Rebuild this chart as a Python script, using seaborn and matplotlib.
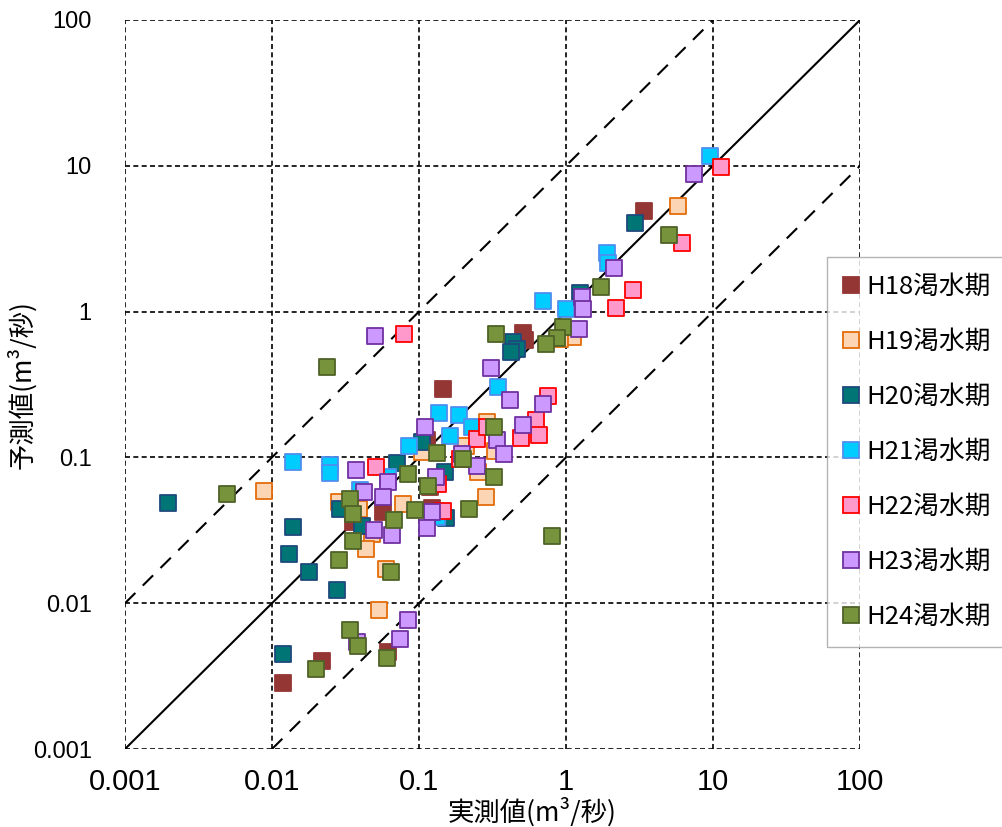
import matplotlib
matplotlib.use("Agg")
import matplotlib.pyplot as plt
import seaborn as sns
import pandas as pd
from matplotlib.lines import Line2D

# ---------------- data (実測値, 予測値) ----------------
h18_x = [3.40, 0.51, 0.53, 0.146, 0.113, 0.119, 0.122, 0.057, 0.0356, 0.0219, 0.0119, 0.0615]
h18_y = [4.9, 0.71, 0.64, 0.294, 0.131, 0.0627, 0.045, 0.0422, 0.0361, 0.00402, 0.00284, 0.00463]

h19_x = [5.78, 1.12, 0.91, 0.00883, 0.0286, 0.0391, 0.0479, 0.0436, 0.0597, 0.290, 0.209,
         0.105, 0.329, 0.252, 0.286, 0.0778, 0.0535]
h19_y = [5.30, 0.67, 0.65, 0.0588, 0.0494, 0.0443, 0.0298, 0.0235, 0.0172, 0.175, 0.120,
         0.109, 0.111, 0.0794, 0.0535, 0.0479, 0.00898]

h20_x = [2.95, 1.24, 0.436, 0.464, 0.422, 0.00196, 0.0139, 0.0130, 0.0179, 0.0277, 0.0290,
         0.0410, 0.0708, 0.105, 0.150, 0.153, 0.0119]
h20_y = [4.05, 1.34, 0.619, 0.554, 0.528, 0.0487, 0.0333, 0.0217, 0.0164, 0.0123, 0.0443,
         0.0338, 0.0916, 0.1276, 0.0794, 0.0384, 0.00449]

h21_x = [9.55, 1.90, 1.93, 0.698, 1.0, 0.345, 0.137, 0.187, 0.229, 0.163, 0.0855, 0.0139,
         0.0248, 0.0248, 0.0397, 0.0615, 0.133]
h21_y = [11.7, 2.52, 2.15, 1.18, 1.04, 0.304, 0.202, 0.195, 0.162, 0.140, 0.120, 0.0929,
         0.0887, 0.0782, 0.0598, 0.0734, 0.039]

h22_x = [11.3, 6.15, 2.86, 2.19, 0.079, 0.754, 0.625, 0.655, 0.494, 0.248, 0.290, 0.190,
         0.135, 0.146, 0.051]
h22_y = [9.8, 2.95, 1.41, 1.06, 0.70, 0.264, 0.181, 0.142, 0.136, 0.134, 0.162, 0.0975,
         0.0657, 0.0429, 0.0859]

h23_x = [7.43, 2.12, 1.28, 1.31, 1.23, 0.309, 0.416, 0.698, 0.51, 0.340, 0.379, 0.110, 0.248,
         0.196, 0.131, 0.0502, 0.0373, 0.0615, 0.0423, 0.0569, 0.122, 0.113, 0.0494, 0.0655,
         0.0842, 0.0743, 0.0379]
h23_y = [8.79, 1.99, 1.26, 1.04, 0.76, 0.41, 0.248, 0.232, 0.167, 0.131, 0.105, 0.162, 0.0873,
         0.105, 0.0734, 0.68, 0.082, 0.0678, 0.0579, 0.0535, 0.0422, 0.0328, 0.0318, 0.0294,
         0.00767, 0.00568, 0.00542]

h24_x = [5.02, 1.73, 0.955, 0.869, 0.731, 0.334, 0.324, 0.133, 0.199, 0.0842, 0.115, 0.324,
         0.094, 0.0676, 0.219, 0.803, 0.0237, 0.00494, 0.034, 0.0356, 0.0356, 0.0286, 0.0645,
         0.034, 0.0385, 0.0606, 0.0199]
h24_y = [3.35, 1.47, 0.784, 0.659, 0.60, 0.70, 0.162, 0.107, 0.0975, 0.077, 0.0637, 0.0734,
         0.0436, 0.0372, 0.0443, 0.0289, 0.417, 0.0561, 0.0519, 0.0409, 0.0267, 0.0198, 0.0164,
         0.00655, 0.00509, 0.00421, 0.00354]

series_names = ["H18渇水期", "H19渇水期", "H20渇水期", "H21渇水期", "H22渇水期", "H23渇水期", "H24渇水期"]
series_x = [h18_x, h19_x, h20_x, h21_x, h22_x, h23_x, h24_x]
series_y = [h18_y, h19_y, h20_y, h21_y, h22_y, h23_y, h24_y]

tick_vals = [0.001, 0.01, 0.1, 1, 10, 100]
tick_labels = ["0.001", "0.01", "0.1", "1", "10", "100"]

# ---------------- style ----------------
face_colors = ["#943634", "#FCD5B5", "#007575", "#00CCFF", "#FF99CC", "#CC99FF", "#77933C"]
edge_colors = ["#943634", "#E46C0A", "#1F497D", "#4F8FEF", "#FF0000", "#7030A0", "#4F6228"]

sns.set_theme(style="white")
plt.rcParams["font.family"] = ["Noto Sans CJK JP", "DejaVu Sans"]
plt.rcParams["text.color"] = "black"
plt.rcParams["axes.labelcolor"] = "black"
plt.rcParams["xtick.color"] = "black"
plt.rcParams["ytick.color"] = "black"

fig = plt.figure(figsize=(10.02, 8.27), dpi=100)
ax = fig.add_axes([125 / 1002, 1 - 749 / 827, (860 - 125) / 1002, (749 - 20) / 827])

rows = []
for name, xs, ys in zip(series_names, series_x, series_y):
    for a, b in zip(xs, ys):
        rows.append({"series": name, "obs": a, "pred": b})
df = pd.DataFrame(rows)

# reference lines
lim = [0.001, 100]
ax.plot(lim, lim, color="black", lw=1.5, zorder=2)
ax.plot([0.001, 10], [0.01, 100], color="black", lw=1.5, ls=(0, (7, 5)), zorder=2)
ax.plot([0.01, 100], [0.001, 10], color="black", lw=1.5, ls=(0, (7, 5)), zorder=2)

for i, name in enumerate(series_names):
    sub = df[df["series"] == name]
    sns.scatterplot(data=sub, x="obs", y="pred", ax=ax, marker="s",
                    s=130, color=face_colors[i], edgecolor=edge_colors[i],
                    linewidth=1.3, zorder=3 + i, legend=False)

ax.set_xscale("log")
ax.set_yscale("log")
ax.set_xlim(0.001, 100)
ax.set_ylim(0.001, 100)
ax.minorticks_off()
ax.set_xticks(tick_vals)
ax.set_xticklabels(tick_labels)
ax.set_yticks(tick_vals)
ax.set_yticklabels(tick_labels)

ax.grid(True, which="major", color="black", lw=1.2, ls=(0, (3, 2)))
for sp in ax.spines.values():
    sp.set_visible(False)
ax.tick_params(axis="x", length=0, pad=14)
ax.tick_params(axis="y", length=0, pad=24)
for lab in ax.get_xticklabels():
    lab.set_family(["Liberation Sans Narrow", "Liberation Sans", "DejaVu Sans"])
    lab.set_fontsize(21)
for lab in ax.get_yticklabels():
    lab.set_family(["Liberation Sans", "DejaVu Sans"])
    lab.set_fontsize(17)

ax.set_xlabel("実測値(m³/秒)", fontsize=19)
ax.set_ylabel("予測値(m³/秒)", fontsize=19)
ax.xaxis.set_label_coords((532 - 125) / 735, -(797 - 749) / 729)
ax.yaxis.set_label_coords(-(125 - 36) / 735, 0.5)

# legend
handles = [Line2D([], [], ls="none", marker="s", markersize=11,
                  markerfacecolor=face_colors[i], markeredgecolor=edge_colors[i],
                  markeredgewidth=1.3) for i in range(len(series_names))]
leg = fig.legend(handles, series_names, loc="upper left",
                 bbox_to_anchor=(827 / 1002, 1 - 257 / 827),
                 fontsize=18.5, frameon=True, fancybox=False, shadow=False,
                 handlelength=0.6, handletextpad=0.3, labelspacing=1.13,
                 borderpad=0.65, borderaxespad=0.0)
leg.get_frame().set_edgecolor("#A0A0A0")
leg.get_frame().set_linewidth(1.0)

fig.savefig("out.png", dpi=100)
